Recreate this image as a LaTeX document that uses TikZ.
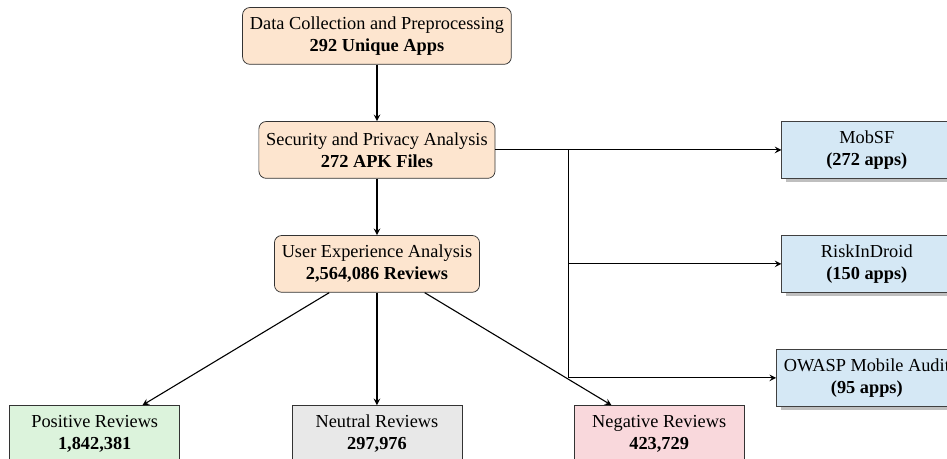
\documentclass[tikz,border=0pt]{standalone}
\usepackage{fontspec}
\setmainfont{Liberation Serif}
\usetikzlibrary{positioning, shadows}

\definecolor{stagefill}{HTML}{FDE5CF}
\definecolor{toolfill}{HTML}{D5E8F5}
\definecolor{posfill}{HTML}{DCF3DC}
\definecolor{neufill}{HTML}{E8E8E8}
\definecolor{negfill}{HTML}{F9D8DC}

\tikzset{
  stage/.style={rectangle, rounded corners=4pt, draw=black!80, fill=stagefill,
    align=center, inner sep=4pt, minimum height=31pt},
  tool/.style={rectangle, draw=black!75, fill=toolfill, align=center,
    inner sep=4pt, minimum width=3.26cm, minimum height=31pt,
    drop shadow={shadow xshift=2.2pt, shadow yshift=-2.2pt, opacity=1, fill=black!25}},
  result/.style={rectangle, draw=black!80, align=center,
    inner sep=4pt, minimum width=3.26cm, minimum height=31pt}
}

\begin{document}
\begin{tikzpicture} [>=stealth, node distance=2.185cm, on grid]
   \useasboundingbox (-205.6pt,19.6pt) rectangle (310.9pt,-230.7pt);

   \node[stage] (collect) at (0,0) {Data Collection and Preprocessing\\\textbf{292 Unique Apps}};
   \node[stage] (secpriv) [below=of collect] {Security and Privacy Analysis\\\textbf{272 APK Files}};
   \node[stage] (userexp) [below=of secpriv] {User Experience Analysis\\\textbf{2,564,086 Reviews}};
   \node[tool] (mobsf) [right=9.39cm of secpriv] {MobSF\\\textbf{(272 apps)}};
   \node[tool] (riskin) [right=9.39cm of userexp] {RiskInDroid\\\textbf{(150 apps)}};
   \node[tool] (owasp) [below=of riskin] {OWASP Mobile Audit\\\textbf{(95 apps)}};
   \node[result, fill=neufill] (neutral) [below=3.26cm of userexp] {Neutral Reviews\\\textbf{297,976}};
   \node[result, fill=posfill] (positive) [left=5.41cm of neutral] {Positive Reviews\\\textbf{1,842,381}};
   \node[result, fill=negfill] (negative) [right=5.41cm of neutral] {Negative Reviews\\\textbf{423,729}};
   \coordinate[right=1.4cm of secpriv.east] (split);

    \path[->, semithick]
    (collect) edge (secpriv)
    (secpriv) edge (userexp)
    (secpriv) edge (mobsf)
    (userexp) edge (positive)
    (userexp) edge (neutral)
    (userexp) edge (negative);
    \draw[->, semithick] (secpriv.east) -- (split) |- (riskin);
    \draw[->, semithick] (split) |- (owasp);

\end{tikzpicture}
\end{document}
